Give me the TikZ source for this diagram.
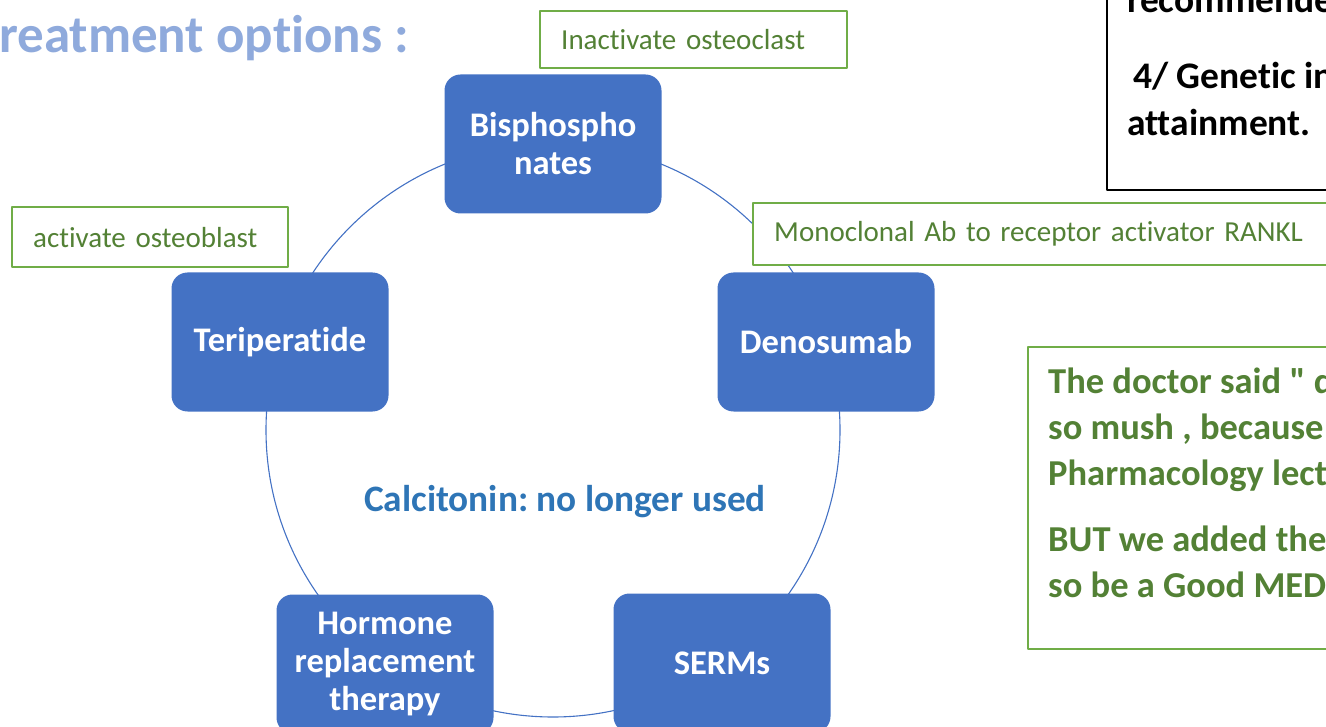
\documentclass[tikz,border=0pt]{standalone}
\usepackage{fontspec}
\setmainfont{Carlito}[Ligatures={NoCommon,TeXOff}]
\frenchspacing
\definecolor{boxblue}{HTML}{4472C4}
\definecolor{rimgreen}{HTML}{70AD47}
\definecolor{leafgreen}{HTML}{538135}
\definecolor{titleblue}{HTML}{8FAADC}
\definecolor{calciblue}{HTML}{2E75B6}
\begin{document}
\begin{tikzpicture}[x=1pt,y=-1pt,line join=bevel,
  cycbox/.style={fill=boxblue,rounded corners=16,minimum width=217,minimum height=139,
    inner sep=0,align=center,text=white,font=\fontsize{34.5}{38}\selectfont\bfseries},
  tagbox/.style={draw=rimgreen,line width=2.4,fill=white,anchor=north west,inner xsep=21,
    inner ysep=0,align=left,text=leafgreen,font=\fontsize{29}{35}\selectfont},
  sidetext/.style={anchor=base west,align=left,inner sep=0,font=\fontsize{36.5}{46}\selectfont\bfseries}]
%%
\useasboundingbox (0,0) rectangle (1326,727);
\node (node_title) at (-1,53) [anchor=base west,inner sep=0,text=titleblue,font=\fontsize{53}{60}\selectfont\bfseries] {reatment options :};
%% top right note
\node (node_note) at (1106,191) [draw=black,line width=1.5,anchor=south west,minimum width=400,minimum height=280] {};
\node (node_note_a) at (1127,13) [sidetext,font=\fontsize{37.5}{47}\selectfont\bfseries] {recommended};
\node (node_note_b) at (1127,136) [sidetext,font=\fontsize{37.5}{47}\selectfont\bfseries] {\hspace{6pt}4/ Genetic in\\attainment.};
%% cycle
\coordinate (hub) at (553,430);
\draw [boxblue,line width=1.1] (hub) circle (287);
\node (node_0) at (553,144) [cycbox] {Bisphospho\\nates};
\node (node_1) at (826,342) [cycbox] {Denosumab};
\node (node_2) at (722,663) [cycbox] {SERMs};
\node (node_3) at (385,664) [cycbox] {Hormone\\replacement\\therapy};
\node (node_4) at (280,342) [cycbox] {Teriperatide};
\node (node_calci) at (565,511) [anchor=base,inner sep=0,text=calciblue,font=\fontsize{37.3}{40}\selectfont\bfseries] {Calcitonin: no longer used};
%% green tags
\node (tag_0) at (539,10) [tagbox,minimum height=57,text width=265] {Inactivate osteoclast};
\node (tag_1) at (752,202) [tagbox,minimum height=62,text width=600] {Monoclonal Ab to receptor activator RANKL};
\node (tag_4) at (11,206) [tagbox,minimum height=60,text width=234] {activate osteoblast};
%% doctor note
\node (node_doc) at (1027,346) [draw=rimgreen,line width=2.4,anchor=north west,minimum width=400,minimum height=302] {};
\node (node_doc_a) at (1048,485) [sidetext,text=leafgreen] {The doctor said " d\\so mush , because\\Pharmacology lect};
\node (node_doc_b) at (1048,597) [sidetext,text=leafgreen] {BUT we added the\\so be a Good MED};
%
\end{tikzpicture}
\end{document}
